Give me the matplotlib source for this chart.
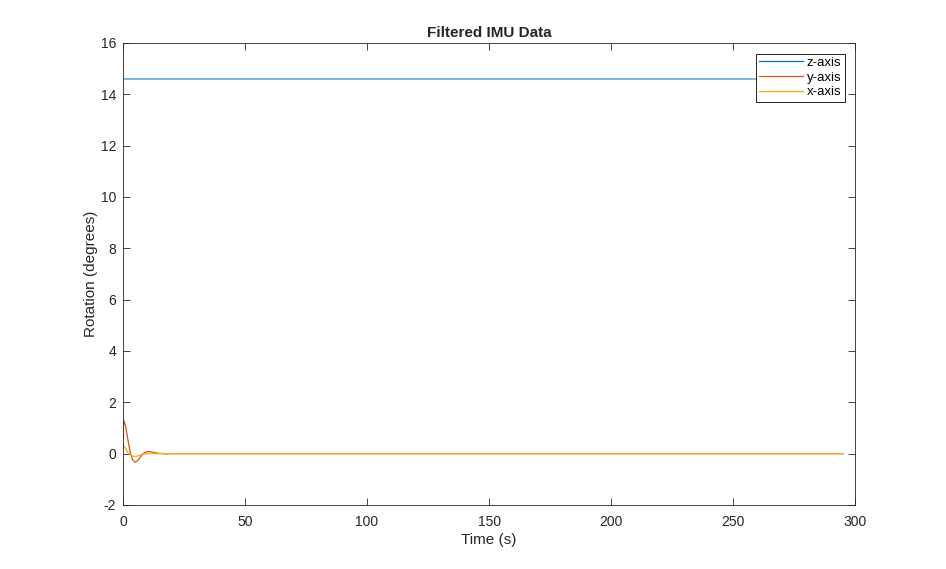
import matplotlib
matplotlib.use('Agg')
import matplotlib.pyplot as plt
import numpy as np

plt.rcParams['font.family'] = ['Liberation Sans', 'DejaVu Sans']
plt.rcParams['axes.unicode_minus'] = False

# values
time_s = [0, 0.3, 1, 2, 3, 4, 5, 6, 7, 8, 9, 10, 11, 12, 13, 14, 16, 18, 20, 25, 295]
z_axis = [14.58] * len(time_s)
y_axis = [0.65, 1.30, 1.10, 0.55, 0.05, -0.25, -0.33, -0.28, -0.15, -0.02, 0.05, 0.08, 0.08, 0.06, 0.04, 0.02, 0.0, -0.01, 0.0, 0.0, 0.0]
x_axis = [0.35, 0.30, 0.20, 0.05, -0.05, -0.10, -0.11, -0.09, -0.06, -0.03, -0.01, 0.0, 0.01, 0.01, 0.0, 0.0, 0.0, 0.0, 0.0, 0.0, 0.0]

fig = plt.figure(figsize=(9.46, 5.69), dpi=100)
ax = fig.add_axes([0.13, 0.1125, 0.774, 0.812])

ax.plot(time_s, z_axis, color='#80B4E0', lw=1.4, label='z-axis')
ax.plot(time_s, y_axis, color='#D95319', lw=0.9, label='y-axis')
ax.plot(time_s, x_axis, color='#EDB120', lw=1.0, label='x-axis')

ax.set_xlim(0, 300)
ax.set_ylim(-2, 16)
ax.set_xticks(np.arange(0, 301, 50))
ax.set_yticks(np.arange(-2, 17, 2))
ax.tick_params(direction='in', top=True, right=True, length=5, width=0.6,
               labelsize=10, colors='#262626')
ax.tick_params(axis='x', pad=7)
ax.tick_params(axis='y', pad=5)
for s in ax.spines.values():
    s.set_linewidth(0.6)
    s.set_color('#262626')

ax.set_xlabel('Time (s)', fontsize=11, color='#262626', labelpad=3)
ax.set_ylabel('Rotation (degrees)', fontsize=11, color='#262626', labelpad=2)
ax.set_title('Filtered IMU Data', fontsize=11, fontweight='bold', color='#262626', pad=4)

h1, = ax.plot([], [], color='#0072BD', lw=0.9)
handles = [h1] + ax.get_lines()[1:3]
leg = ax.legend(handles, ['z-axis', 'y-axis', 'x-axis'], loc='upper right',
                fontsize=9.5, frameon=True, fancybox=False, framealpha=1,
                borderpad=0.25, labelspacing=0.18, handlelength=3.3, handletextpad=0.3,
                borderaxespad=0.8)
leg.get_frame().set_edgecolor('black')
leg.get_frame().set_linewidth(0.6)

plt.savefig('out.png', dpi=100)
